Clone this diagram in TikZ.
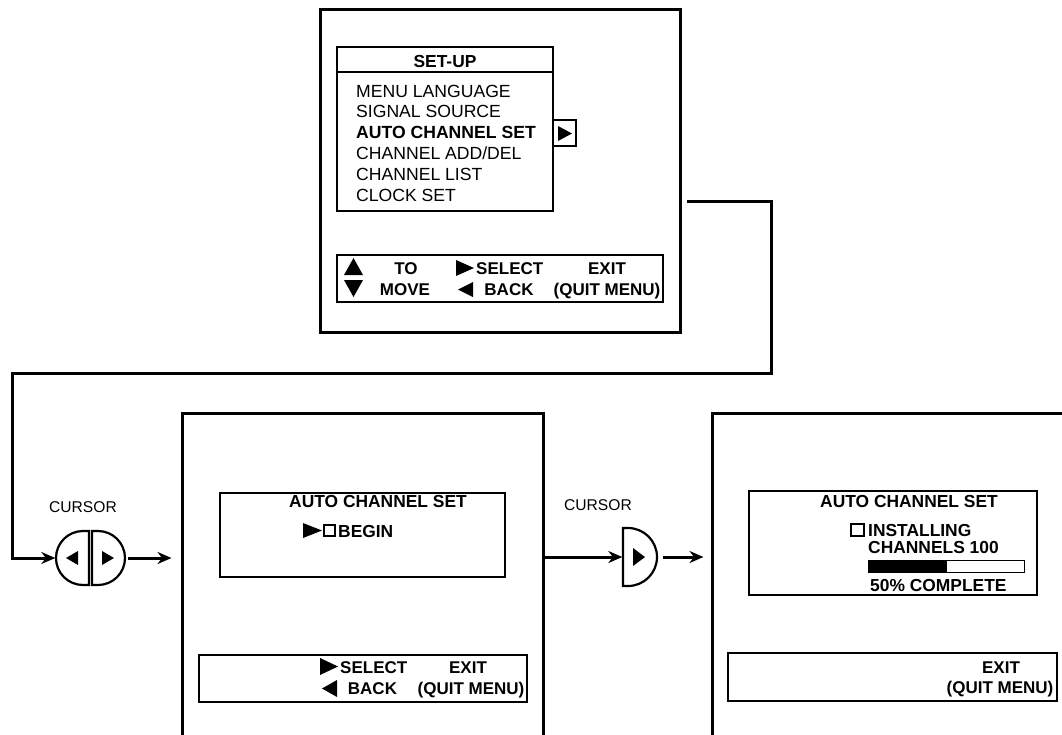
\documentclass[tikz,border=0pt]{standalone}
\usepackage{fontspec}
\setmainfont{Liberation Sans}
\usetikzlibrary{arrows.meta,calc}

\begin{document}
\begin{tikzpicture}[x=1pt,y=-1pt,>={Stealth[length=14pt,width=12pt]},
    screen/.style={draw,line width=3pt,inner sep=0pt},
    panel/.style={draw,line width=1.1pt,inner sep=0pt},
    txt/.style={inner sep=0pt,text height=12.6pt,text depth=0pt,font=\fontsize{17.6}{18}\selectfont},
    btxt/.style={txt,font=\fontsize{17.4}{18}\selectfont\bfseries},
    ktxt/.style={txt,font=\fontsize{17}{18}\selectfont\bfseries},
    ctxt/.style={txt,text height=11.2pt,font=\fontsize{15.6}{16}\selectfont},
    knob/.style={inner sep=0pt},
    link/.style={line width=3pt}]
    \useasboundingbox (0,0) rectangle (1062,734);
    \clip (0,0) rectangle (1062,734);

    % set-up menu
    \node[screen,minimum width=360pt,minimum height=323pt] (setup) at (500,170.5) {};
    \node[panel,minimum width=216pt,minimum height=164pt] (menu) at (445,129) {};
    \draw[line width=1.1pt] (menu.west|-0,72) -- (menu.east|-0,72);
    \node[btxt] (title) at (445,61) {SET-UP};
    \foreach \t [count=\i] in {MENU LANGUAGE,SIGNAL SOURCE,AUTO CHANNEL SET,CHANNEL ADD/DEL,CHANNEL LIST,CLOCK SET}
        \node[txt,anchor=west] (item\i) at (356,70+20.8*\i) {\ifnum\i=3 \bfseries\fi\t};
    \node[panel,minimum width=23pt,minimum height=26pt] (pick) at (564.5,133) {};
    \fill (558,126) -- (558,141) -- (572,133.5) -- cycle;
    \node[panel,minimum width=326pt,minimum height=47pt] (keys1) at (500,278.5) {};
    \fill (344,275) -- (363,275) -- (353.5,258) -- cycle;
    \fill (344,280) -- (363,280) -- (353.5,297) -- cycle;
    \node[ktxt] (to) at (406,268) {TO};
    \node[ktxt] (move) at (405,289) {MOVE};
    \fill (456,260) -- (456,276) -- (474,268) -- cycle;
    \node[ktxt,anchor=west] (sel1) at (476,268) {SELECT};
    \fill (473,282) -- (473,297) -- (458,289.5) -- cycle;
    \node[ktxt] (back1) at (509,289) {BACK};
    \node[ktxt] (exit1) at (607,268) {EXIT};
    \node[ktxt] (quit1) at (607,289) {(QUIT MENU)};

    % left/right cursor
    \node[ctxt] (lab1) at (83,507) {CURSOR};
    \node[knob,minimum width=70pt,minimum height=54pt] (cur1) at (90.5,558) {};
    \draw[line width=2.2pt] (89,531) -- (83,531) arc[start angle=90,end angle=270,radius=27pt] -- (89,585) -- cycle;
    \draw[line width=2.2pt] (92,531) -- (98,531) arc[start angle=90,end angle=-90,radius=27pt] -- (92,585) -- cycle;
    \fill (78,551) -- (78,565) -- (66,558) -- cycle;
    \fill (102,551) -- (102,565) -- (114,558) -- cycle;

    % begin screen
    \node[screen,minimum width=361pt,minimum height=347pt] (mid) at (362.5,586.5) {};
    \node[panel,minimum width=285pt,minimum height=84pt] (scr2) at (362.5,535) {};
    \node[btxt] (head2) at (378,501) {AUTO CHANNEL SET};
    \fill (303,523) -- (303,538) -- (322,530.5) -- cycle;
    \draw[line width=2.2pt] (324,525) rectangle (335,536);
    \node[btxt,anchor=west] (begin) at (338,531) {BEGIN};
    \node[panel,minimum width=328pt,minimum height=47pt] (keys2) at (363,678.5) {};
    \fill (320,658) -- (320,675) -- (338,666.5) -- cycle;
    \node[ktxt,anchor=west] (sel2) at (340,667) {SELECT};
    \fill (337,680) -- (337,697) -- (322,688.5) -- cycle;
    \node[ktxt] (back2) at (372.5,688) {BACK};
    \node[ktxt] (exit2) at (468,667) {EXIT};
    \node[ktxt] (quit2) at (471,688) {(QUIT MENU)};

    % right cursor
    \node[ctxt] (lab2) at (598,505) {CURSOR};
    \node[knob,minimum width=35pt,minimum height=58pt] (cur2) at (640,557) {};
    \draw[line width=2.2pt] (623,528) -- (628,528) arc[start angle=90,end angle=-90,radius=29pt] -- (623,586) -- cycle;
    \fill (633,548) -- (633,566) -- (645,557) -- cycle;

    % installing screen
    \node[screen,minimum width=378pt,minimum height=347pt] (fin) at (901,586.5) {};
    \node[panel,minimum width=288pt,minimum height=104pt] (scr3) at (893,543) {};
    \node[btxt] (head3) at (909,501) {AUTO CHANNEL SET};
    \draw[line width=2.2pt] (851,524) rectangle (864,536);
    \node[btxt,anchor=west] (inst) at (868,530) {INSTALLING};
    \node[btxt,anchor=west] (chan) at (868,547) {CHANNELS 100};
    \draw[line width=1pt] (868,560) rectangle (1024,572);
    \fill (868,560) rectangle (947,572);
    \node[btxt,anchor=west] (done) at (870,585) {50\% COMPLETE};
    \node[panel,minimum width=329pt,minimum height=48pt] (keys3) at (892.5,677) {};
    \node[ktxt] (exit3) at (1001,667) {EXIT};
    \node[ktxt] (quit3) at (1000,687) {(QUIT MENU)};

    % connectors
    \coordinate (out) at (687,201);
    \draw[link,->] (out) -- (771,201) -- (771,373) -- (12,373) |- (cur1.west);
    \draw[link,->,shorten <=2.5pt,shorten >=9pt] (cur1.east) -- (cur1.east -| mid.west);
    \draw[link,->] (mid.east |- cur2.west) -- (cur2.west);
    \draw[link,->,shorten <=5pt,shorten >=7pt] (cur2.east) -- (cur2.east -| fin.west);
\end{tikzpicture}
\end{document}
